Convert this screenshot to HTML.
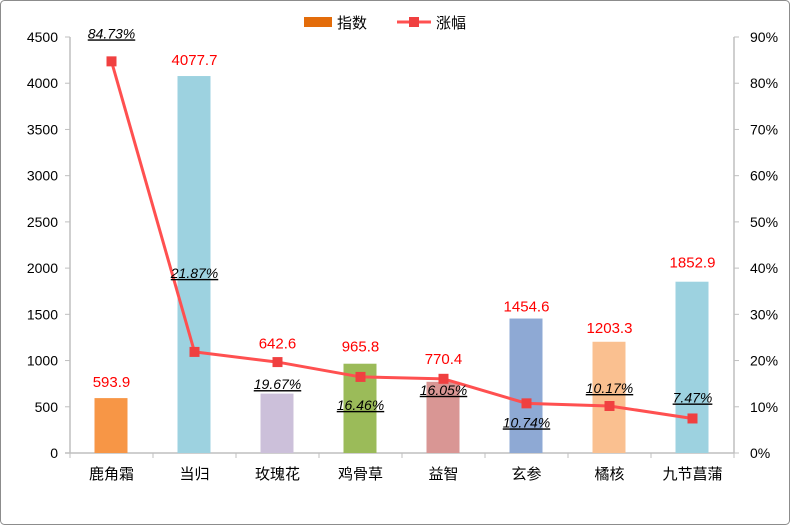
<!DOCTYPE html>
<html><head><meta charset="utf-8">
<style>
html,body{margin:0;padding:0;background:#fff;}
#wrap{width:790px;height:525px;position:relative;overflow:hidden;}
svg text{font-family:"Liberation Sans","Noto Sans CJK SC",sans-serif;}
</style></head>
<body>
<div id="wrap">
<svg id="chart" width="790" height="525"></svg>
</div>
<script>
const categories = ["鹿角霜","当归","玫瑰花","鸡骨草","益智","玄参","橘核","九节菖蒲"];
const indexValues = [593.9,4077.7,642.6,965.8,770.4,1454.6,1203.3,1852.9];
const changeValues = [84.73,21.87,19.67,16.46,16.05,10.74,10.17,7.47];
const barColors = ["#F79646","#9DD2E0","#CCC0DA","#9BBB59","#D99694","#8EA9D4","#FAC090","#9DD2E0"];
const leftTicks = [0,500,1000,1500,2000,2500,3000,3500,4000,4500];
const rightTicks = [0,10,20,30,40,50,60,70,80,90];
const pctLabelOffset = [-28,-79,22,28,11,19,-18,-21];
const barLabelOffset = [-16,-16,-50,-17,-23,-12,-14,-19];

const NS="http://www.w3.org/2000/svg";
const svg=document.getElementById('chart');
function mk(tag,attrs,parent){const e=document.createElementNS(NS,tag);for(const k in attrs)e.setAttribute(k,attrs[k]);(parent||svg).appendChild(e);return e;}
const L=70,R=734,T=37,B=453;
const step=(R-L)/categories.length;
const xc=i=>L+step*(i+0.5);
const yL=v=>B-(v/4500)*(B-T);
const yR=v=>B-(v/90)*(B-T);

const border=mk('rect',{x:0.5,y:0.5,width:789,height:524,rx:4,fill:'#fff',stroke:'#8c8c8c','stroke-width':1});



const axes=mk('g',{});


mk('line',{x1:L,y1:T,x2:L,y2:B,stroke:'#bfbfbf','stroke-width':1.5},axes);
mk('line',{x1:R,y1:T,x2:R,y2:B,stroke:'#bfbfbf','stroke-width':1.5},axes);
mk('line',{x1:L-5,y1:B,x2:R,y2:B,stroke:'#bfbfbf','stroke-width':1.5},axes);
leftTicks.forEach(v=>{
  mk('line',{x1:L-5,y1:yL(v),x2:L,y2:yL(v),stroke:'#bfbfbf'},axes);
  const t=mk('text',{x:L-12,y:yL(v)+5,'text-anchor':'end','font-size':14,fill:'#000'},axes);
  t.textContent=v;
  
  
});
rightTicks.forEach(v=>{
  mk('line',{x1:R,y1:yR(v),x2:R+5,y2:yR(v),stroke:'#bfbfbf'},axes);
  const t=mk('text',{x:R+16,y:yR(v)+5,'font-size':14,fill:'#000'},axes);
  t.textContent=v+'%';
  
  
});
for(let i=0;i<=categories.length;i++){
  mk('line',{x1:L+step*i,y1:B,x2:L+step*i,y2:B+5,stroke:'#bfbfbf'},axes);
}
categories.forEach((c,i)=>{
  const t=mk('text',{x:xc(i),y:B+26,'text-anchor':'middle','font-size':15,fill:'#000'});
  t.textContent=c;
  
  
});

indexValues.forEach((v,i)=>{
  const b=mk('rect',{x:xc(i)-17,y:yL(v),width:33,height:B-yL(v),fill:barColors[i]});
  
  
  const t=mk('text',{x:xc(i),y:yL(v)+barLabelOffset[i]+5,'text-anchor':'middle','font-size':15,fill:'#ff0000'});
  t.textContent=v.toFixed(1);
  
  
});

const pts=changeValues.map((v,i)=>xc(i)+','+yR(v)).join(' ');
const line=mk('polyline',{points:pts,fill:'none',stroke:'#FF5050','stroke-width':3});


changeValues.forEach((v,i)=>{
  const m=mk('rect',{x:xc(i)-5,y:yR(v)-5,width:10,height:10,fill:'#F04040'});
  
  
  const t=mk('text',{x:xc(i),y:yR(v)+pctLabelOffset[i]+5,'text-anchor':'middle','font-size':14,'font-style':'italic','text-decoration':'underline',fill:'#000'});
  t.textContent=v.toFixed(2)+'%';
  
  
});

const lg=mk('g',{});


const l1=mk('rect',{x:304,y:17,width:28,height:10,fill:'#E36C0A'},lg);


const lt1=mk('text',{x:337,y:28,'font-size':15,fill:'#000'},lg);
lt1.textContent='指数';


mk('line',{x1:397,y1:22,x2:431,y2:22,stroke:'#FF5050','stroke-width':3},lg);
const l2=mk('rect',{x:409,y:17,width:10,height:10,fill:'#F04040'},lg);


const lt2=mk('text',{x:436,y:28,'font-size':15,fill:'#000'},lg);
lt2.textContent='涨幅';


</script>
</body></html>
